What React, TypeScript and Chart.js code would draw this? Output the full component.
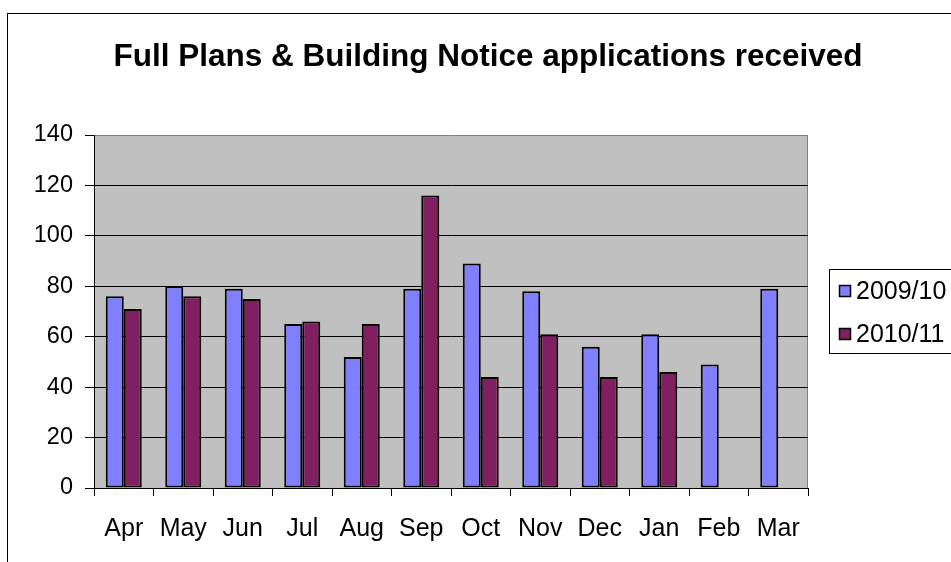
import React, { useEffect, useRef } from "react";
import { Chart, registerables } from "chart.js";

Chart.register(...registerables);

const TITLE = "Full Plans & Building Notice applications received";
const MONTHS = ["Apr", "May", "Jun", "Jul", "Aug", "Sep", "Oct", "Nov", "Dec", "Jan", "Feb", "Mar"];
const SERIES_2009_10 = [76, 80, 79, 65, 52, 79, 89, 78, 56, 61, 49, 79];
const SERIES_2010_11 = [71, 76, 75, 66, 65, 116, 44, 61, 44, 46, null, null];
const LABEL_2009_10 = "2009/10";
const LABEL_2010_11 = "2010/11";
const Y_MIN = 0;
const Y_MAX = 140;
const Y_STEP = 20;

const FONT = "'Liberation Sans', Arial, sans-serif";
const BLUE = "#8080FF";
const MAROON = "#802060";

const decorPlugin = {
  id: "decor",
  beforeDraw(chart: any) {
    const { ctx, chartArea: a } = chart;
    ctx.save();
    ctx.fillStyle = "#ffffff";
    ctx.fillRect(0, 0, chart.width, chart.height);
    // outer chart frame
    ctx.strokeStyle = "#000000";
    ctx.lineWidth = 1;
    ctx.strokeRect(7.5, 13.5, 2000, 2000);
    // plot background
    ctx.fillStyle = "#C0C0C0";
    ctx.fillRect(a.left, a.top, a.right - a.left, a.bottom - a.top);
    // plot frame (gray, right side)
    ctx.strokeStyle = "#808080";
    ctx.beginPath();
    ctx.moveTo(Math.round(a.right) - 0.5, a.top);
    ctx.lineTo(Math.round(a.right) - 0.5, a.bottom);
    ctx.stroke();
    // title
    ctx.fillStyle = "#000000";
    ctx.font = `bold 31.5px ${FONT}`;
    ctx.textAlign = "center";
    ctx.textBaseline = "alphabetic";
    ctx.fillText(TITLE, 488, 66);
    ctx.restore();
  },
  afterDraw(chart: any) {
    const { ctx } = chart;
    ctx.save();
    ctx.strokeStyle = "#000000";
    ctx.lineWidth = 1;
    ctx.strokeRect(829.5, 269.5, 400, 84);
    ctx.font = `25px ${FONT}`;
    ctx.textAlign = "left";
    ctx.textBaseline = "middle";
    chart.data.datasets.forEach((ds: any, i: number) => {
      const cy = 291 + i * 43;
      ctx.fillStyle = ds.backgroundColor;
      ctx.fillRect(839, cy - 6, 12, 12);
      ctx.strokeStyle = "#000000";
      ctx.lineWidth = 1.5;
      ctx.strokeRect(839.5, cy - 5.5, 11, 11);
      ctx.fillStyle = "#000000";
      ctx.fillText(ds.label, 856, cy + 1);
    });
    ctx.restore();
  },
};

export default function App() {
  const ref = useRef<HTMLCanvasElement | null>(null);

  useEffect(() => {
    if (!ref.current) return;
    const chart = new Chart(ref.current, {
      type: "bar",
      data: {
        labels: MONTHS,
        datasets: [
          {
            label: LABEL_2009_10,
            data: SERIES_2009_10,
            backgroundColor: BLUE,
            borderColor: "#000000",
            borderWidth: 2,
            borderSkipped: false,
            categoryPercentage: 0.605,
            barPercentage: 1,
          },
          {
            label: LABEL_2010_11,
            data: SERIES_2010_11,
            backgroundColor: MAROON,
            borderColor: "#000000",
            borderWidth: 2,
            borderSkipped: false,
            categoryPercentage: 0.605,
            barPercentage: 1,
          },
        ],
      },
      options: {
        responsive: false,
        animation: false,
        devicePixelRatio: 1,
        layout: { padding: { top: 135, right: 143, bottom: 0, left: 0 } },
        plugins: {
          legend: { display: false },
          title: { display: false },
          tooltip: { enabled: false },
        },
        scales: {
          x: {
            afterFit: (s: any) => {
              s.height = 74;
            },
            grid: {
              offset: true,
              drawOnChartArea: false,
              drawTicks: true,
              tickLength: 8,
              tickColor: "#000000",
            },
            border: { display: true, color: "#000000", width: 1 },
            ticks: {
              color: "#000000",
              font: { family: FONT, size: 25 },
              padding: 18,
              maxRotation: 0,
              autoSkip: false,
            },
          },
          y: {
            min: Y_MIN,
            max: Y_MAX,
            afterFit: (s: any) => {
              s.width = 94;
            },
            grid: {
              color: (c: any) => (c.tick && c.tick.value === Y_MAX ? "#808080" : "#000000"),
              tickColor: "#000000",
              tickLength: 9,
              lineWidth: 1,
            },
            border: { display: true, color: "#000000", width: 1 },
            ticks: {
              stepSize: Y_STEP,
              color: "#000000",
              font: { family: FONT, size: 23.5 },
              padding: 12,
            },
          },
        },
      },
      plugins: [decorPlugin],
    });
    return () => chart.destroy();
  }, []);

  return (
    <div style={{ position: "fixed", left: 0, top: 0, width: 951, height: 562, overflow: "hidden", background: "#fff" }}>
      <canvas ref={ref} width={951} height={562} style={{ display: "block", width: 951, height: 562 }} />
    </div>
  );
}
